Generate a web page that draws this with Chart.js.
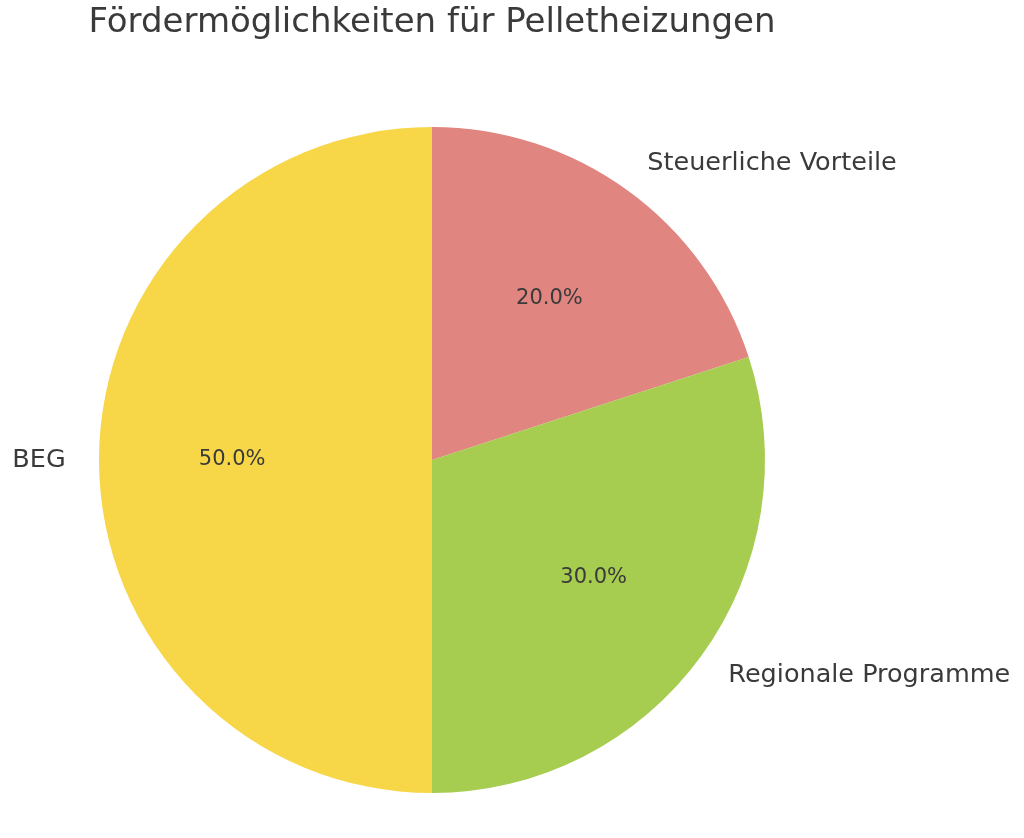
<!DOCTYPE html>
<html>
<head>
<meta charset="utf-8">
<script src="https://cdn.jsdelivr.net/npm/chart.js@4"></script>
<style>
  html, body { margin: 0; padding: 0; background: #fff; }
  #wrap { width: 1024px; height: 838px; }
</style>
</head>
<body>
<div id="wrap"><canvas id="pie" width="1024" height="838"></canvas></div>
<script>
const TITLE = 'Fördermöglichkeiten für Pelletheizungen';
const LABELS = ['Steuerliche Vorteile', 'Regionale Programme', 'BEG'];
const VALUES = [20, 30, 50];
const SLICE_COLORS = ['#e08580', '#a6cc50', '#f7d748'];

const TEXT_COLOR = '#3a3a3a';
const FONT = '"DejaVu Sans", sans-serif';

// matplotlib-style labels: name at 1.1r, percentage at 0.6r
const pieLabels = {
  id: 'pieLabels',
  afterDatasetsDraw(chart) {
    const ctx = chart.ctx;
    const meta = chart.getDatasetMeta(0);
    const total = VALUES.reduce((a, b) => a + b, 0);
    ctx.save();
    meta.data.forEach((arc, i) => {
      const { x, y, startAngle, endAngle, outerRadius } = arc.getProps(['x', 'y', 'startAngle', 'endAngle', 'outerRadius'], true);
      const mid = (startAngle + endAngle) / 2;
      const cos = Math.cos(mid), sin = Math.sin(mid);

      ctx.fillStyle = TEXT_COLOR;
      ctx.textBaseline = 'middle';

      ctx.font = '21px ' + FONT;
      ctx.textAlign = 'center';
      const pct = (VALUES[i] / total * 100).toFixed(1) + '%';
      ctx.fillText(pct, x + cos * outerRadius * 0.6, y + sin * outerRadius * 0.6);

      ctx.font = '25.5px ' + FONT;
      ctx.textAlign = Math.abs(cos) < 1e-6 ? 'center' : (cos > 0 ? 'left' : 'right');
      ctx.fillText(LABELS[i], x + cos * outerRadius * 1.1, y + sin * outerRadius * 1.1);
    });

    ctx.font = '34px ' + FONT;
    ctx.textAlign = 'center';
    ctx.textBaseline = 'alphabetic';
    ctx.fillText(TITLE, meta.data[0].x, 32);
    ctx.restore();
  }
};

new Chart(document.getElementById('pie'), {
  type: 'pie',
  data: {
    labels: LABELS,
    datasets: [{
      data: VALUES,
      backgroundColor: SLICE_COLORS,
      borderWidth: 0,
    }],
  },
  options: {
    responsive: false,
    animation: false,
    layout: { padding: { left: 99, right: 259, top: 127, bottom: 45 } },
    plugins: {
      legend: { display: false },
      tooltip: { enabled: false },
      title: { display: false },
    },
  },
  plugins: [pieLabels],
});
</script>
</body>
</html>
